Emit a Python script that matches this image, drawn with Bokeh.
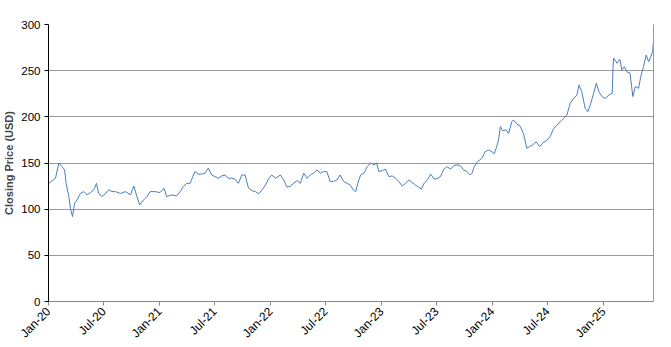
import pandas as pd
from bokeh.plotting import figure
from bokeh.models import Range1d, FixedTicker, DatetimeTickFormatter, LinearAxis
from bokeh.embed import file_html
from bokeh.resources import INLINE
import math

dates = [
    "2020-01-02", "2020-01-24", "2020-02-04", "2020-02-14", "2020-02-23", "2020-02-28", "2020-03-08", "2020-03-13",
    "2020-03-20", "2020-03-27", "2020-04-04", "2020-04-15", "2020-04-26", "2020-05-07", "2020-05-18", "2020-05-29",
    "2020-06-07", "2020-06-14", "2020-06-25", "2020-07-07", "2020-07-17", "2020-07-28", "2020-08-08", "2020-08-25",
    "2020-09-10", "2020-09-27", "2020-10-08", "2020-10-18", "2020-10-27", "2020-11-09", "2020-11-20", "2020-11-30",
    "2020-12-17", "2021-01-02", "2021-01-15", "2021-01-24", "2021-02-10", "2021-02-26", "2021-03-09", "2021-03-20",
    "2021-03-31", "2021-04-11", "2021-04-20", "2021-04-27", "2021-05-08", "2021-05-19", "2021-05-30", "2021-06-10",
    "2021-06-21", "2021-07-02", "2021-07-13", "2021-07-24", "2021-08-04", "2021-08-15", "2021-08-26", "2021-09-06",
    "2021-09-17", "2021-09-28", "2021-10-09", "2021-10-20", "2021-11-01", "2021-11-12", "2021-11-23", "2021-12-04",
    "2021-12-15", "2021-12-26", "2022-01-05", "2022-01-17", "2022-02-02", "2022-02-13", "2022-02-24", "2022-03-07",
    "2022-03-18", "2022-03-29", "2022-04-09", "2022-04-20", "2022-05-01", "2022-05-12", "2022-05-23", "2022-06-02",
    "2022-06-14", "2022-06-24", "2022-07-05", "2022-07-16", "2022-07-27", "2022-08-07", "2022-08-18", "2022-08-29",
    "2022-09-09", "2022-09-20", "2022-09-30", "2022-10-08", "2022-10-15", "2022-10-24", "2022-11-04", "2022-11-15",
    "2022-11-26", "2022-12-07", "2022-12-16", "2022-12-23", "2023-01-04", "2023-01-14", "2023-01-25", "2023-02-05",
    "2023-02-16", "2023-02-27", "2023-03-10", "2023-03-21", "2023-04-01", "2023-04-12", "2023-04-23", "2023-05-04",
    "2023-05-12", "2023-05-21", "2023-06-01", "2023-06-12", "2023-06-23", "2023-07-04", "2023-07-14", "2023-07-25",
    "2023-08-05", "2023-08-16", "2023-08-27", "2023-09-07", "2023-09-18", "2023-09-28", "2023-10-09", "2023-10-20",
    "2023-10-26", "2023-11-02", "2023-11-13", "2023-11-27", "2023-12-08", "2023-12-19", "2023-12-30", "2024-01-07",
    "2024-01-15", "2024-01-21", "2024-01-27", "2024-02-04", "2024-02-15", "2024-02-23", "2024-03-05", "2024-03-10",
    "2024-03-21", "2024-04-01", "2024-04-12", "2024-04-23", "2024-05-02", "2024-05-13", "2024-05-24", "2024-06-04",
    "2024-06-15", "2024-06-26", "2024-07-09", "2024-07-20", "2024-07-31", "2024-08-11", "2024-08-22", "2024-09-02",
    "2024-09-13", "2024-09-24", "2024-10-05", "2024-10-12", "2024-10-21", "2024-11-01", "2024-11-10", "2024-11-18",
    "2024-11-29", "2024-12-08", "2024-12-16", "2024-12-27", "2025-01-07", "2025-01-18", "2025-01-29", "2025-02-01",
    "2025-02-03", "2025-02-14", "2025-02-23", "2025-03-02", "2025-03-10", "2025-03-18", "2025-03-29", "2025-04-07",
    "2025-04-15", "2025-04-26", "2025-05-03", "2025-05-12", "2025-05-21", "2025-05-29", "2025-06-05", "2025-06-11",
    "2025-06-14",
]
prices = [
    128, 133.5, 150, 146, 142.5, 128, 113.6, 101,
    92, 106.5, 110, 117, 119, 115.5, 118, 121,
    128, 117, 113.6, 117, 121, 119, 119, 117,
    119, 115.5, 125, 113.6, 104.6, 110, 113.6, 119,
    119, 118, 122.7, 113.6, 115.5, 114.4, 119, 124.5,
    128, 128, 135.3, 140.7, 138, 138, 139, 144.4,
    137, 135.3, 133.5, 136, 137, 133.5, 133.5, 132.5,
    128, 137, 137, 123, 120, 119, 116.6, 121,
    126, 133.5, 137, 133.5, 137, 131.7, 123.8, 125,
    128, 131, 128, 139, 133.5, 137, 139, 142.5,
    139, 140.7, 140.7, 130, 130, 131.7, 137, 130,
    128, 126, 121, 119, 128, 137, 139, 146,
    150, 148, 150, 140.7, 141.8, 143.3, 135.3, 136,
    133.5, 130, 125, 128, 131.7, 128.8, 126, 123.8,
    121.6, 128, 131.7, 138, 132.5, 133.5, 135.3, 143.3,
    146, 143.3, 147, 148, 146.9, 142.5, 140.7, 137,
    139, 146, 151.5, 155, 162.3, 164, 162.3, 160,
    167.7, 175, 189.4, 185, 185.8, 182, 194.8, 196.6,
    192.3, 190, 182, 166, 167.7, 169.6, 173, 167.7,
    172, 174, 178.6, 187, 191, 194.8, 198.5, 202,
    214.7, 220, 223.7, 234.5, 227.3, 209.3, 205.6, 212.9,
    225.5, 236.4, 227.3, 221.9, 220, 223.7, 225.5, 254.3,
    263.4, 258, 262.3, 250.8, 254.3, 248.9, 247.2, 221.9,
    232.7, 230.9, 243.5, 254.3, 267, 259.7, 265.2, 270.6,
    281.4,
]
tick_dates = ["2020-01-01", "2020-07-01", "2021-01-01", "2021-07-01", "2022-01-01", "2022-07-01",
              "2023-01-01", "2023-07-01", "2024-01-01", "2024-07-01", "2025-01-01"]
y_ticks = [0, 50, 100, 150, 200, 250, 300]
y_label = "Closing Price (USD)"

x = pd.to_datetime(dates)
ticks_ms = [pd.Timestamp(d).value / 1e6 for d in tick_dates]

p = figure(frame_width=605, frame_height=277, x_axis_type="datetime",
           output_backend="svg", toolbar_location=None,
           min_border_left=42, min_border_top=24, min_border_right=6, min_border_bottom=10,
           x_range=Range1d(pd.Timestamp(tick_dates[0]), x[-1]),
           y_range=Range1d(y_ticks[0], y_ticks[-1]))
p.outline_line_color = None
p.background_fill_color = "white"
p.border_fill_color = "white"

p.line(x, prices, line_color="#4a7ebb", line_width=1)

# x axis
p.xaxis.ticker = FixedTicker(ticks=ticks_ms)
p.xaxis.formatter = DatetimeTickFormatter(days="%b-%y", months="%b-%y", years="%b-%y",
                                          hours="%b-%y", minutes="%b-%y")
p.xaxis.major_label_orientation = math.pi / 4
p.xaxis.major_label_text_font = "Liberation Sans"
p.xaxis.major_label_text_font_size = "12px"
p.xaxis.major_label_text_color = "black"
p.xaxis.axis_line_color = "#888888"
p.xaxis.major_tick_line_color = "#888888"
p.xaxis.major_tick_out = 4
p.xaxis.major_tick_in = 0
p.xaxis.minor_tick_line_color = None
p.xaxis.major_label_standoff = 4

# y axis
p.yaxis.ticker = FixedTicker(ticks=y_ticks)
p.yaxis.axis_label = y_label
p.yaxis.axis_label_text_font = "Liberation Sans"
p.yaxis.axis_label_text_font_style = "bold"
p.yaxis.axis_label_text_font_size = "11px"
p.yaxis.axis_label_standoff = 3
p.yaxis.major_label_text_font = "Liberation Sans"
p.yaxis.major_label_text_font_size = "11.5px"
p.yaxis.major_label_text_color = "black"
p.yaxis.axis_line_color = "black"
p.yaxis.major_tick_line_color = "black"
p.yaxis.major_tick_out = 4
p.yaxis.major_tick_in = 0
p.yaxis.minor_tick_line_color = None
p.yaxis.major_label_standoff = 4

# right border as an axis without ticks
right = LinearAxis(ticker=FixedTicker(ticks=[]), axis_line_color="#999999",
                   major_tick_line_color=None, minor_tick_line_color=None,
                   major_label_text_font_size="0px")
p.add_layout(right, "right")

p.xgrid.grid_line_color = None
p.ygrid.grid_line_color = "#333333"
p.ygrid.grid_line_dash = "1 1"
p.ygrid.grid_line_width = 1

open("out.html", "w").write(file_html(p, INLINE))
